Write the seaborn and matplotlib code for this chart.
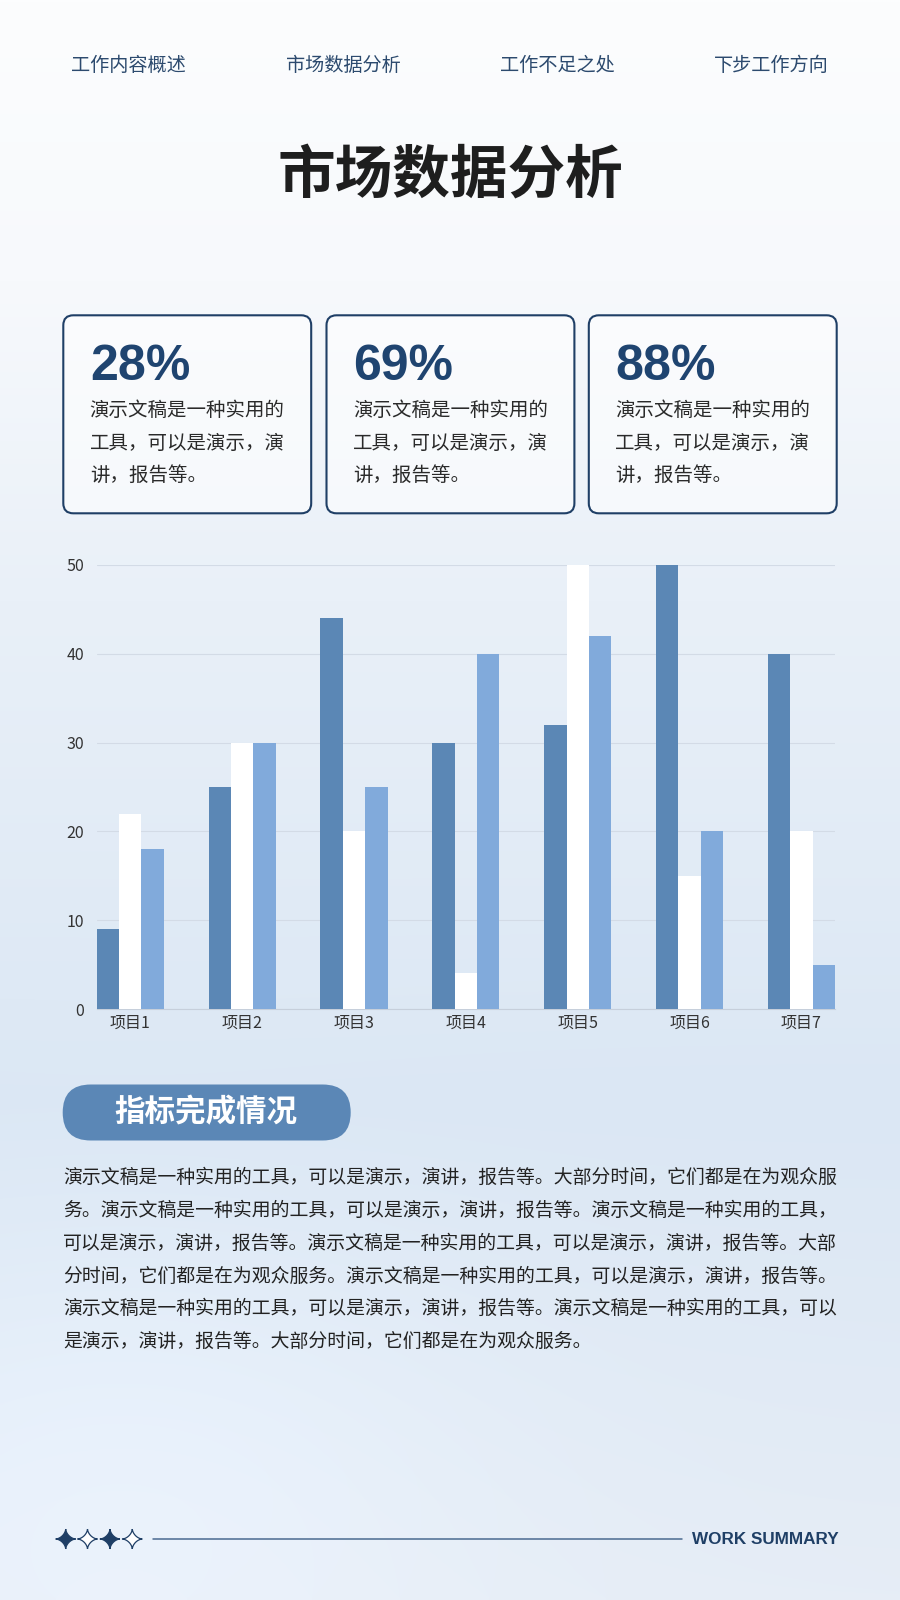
import numpy as np
import pandas as pd
import matplotlib
matplotlib.use("Agg")
import matplotlib.pyplot as plt
import seaborn as sns
from matplotlib.patches import FancyBboxPatch, Polygon
from matplotlib.lines import Line2D

# ---------------- data ----------------
categories = ["项目1", "项目2", "项目3", "项目4", "项目5", "项目6", "项目7"]
series_names = ["系列1", "系列2", "系列3"]
series1 = [9, 25, 44, 30, 32, 50, 40]
series2 = [22, 30, 20, 4, 50, 15, 20]
series3 = [18, 30, 25, 40, 42, 20, 5]
y_ticks = [0, 10, 20, 30, 40, 50]

nav_items = ["工作内容概述", "市场数据分析", "工作不足之处", "下步工作方向"]
page_title = "市场数据分析"
card_values = ["28%", "69%", "88%"]
card_lines = ["演示文稿是一种实用的", "工具，可以是演示，演", "讲，报告等。"]
section_title = "指标完成情况"
paragraph_lines = [
    "演示文稿是一种实用的工具，可以是演示，演讲，报告等。大部分时间，它们都是在为观众服",
    "务。演示文稿是一种实用的工具，可以是演示，演讲，报告等。演示文稿是一种实用的工具，",
    "可以是演示，演讲，报告等。演示文稿是一种实用的工具，可以是演示，演讲，报告等。大部",
    "分时间，它们都是在为观众服务。演示文稿是一种实用的工具，可以是演示，演讲，报告等。",
    "演示文稿是一种实用的工具，可以是演示，演讲，报告等。演示文稿是一种实用的工具，可以",
    "是演示，演讲，报告等。大部分时间，它们都是在为观众服务。",
]
footer_text = "WORK SUMMARY"

# ---------------- style ----------------
sns.set_theme(style="white")
plt.rcParams['font.family'] = ['Noto Sans CJK SC', 'DejaVu Sans']

NAVY = "#1f3f66"
DARK_BAR = "#5b87b5"
LIGHT_BAR = "#81aadb"
palette = {series_names[0]: DARK_BAR, series_names[1]: "#ffffff", series_names[2]: LIGHT_BAR}

W, H = 900, 1600
fig = plt.figure(figsize=(9, 16), dpi=100)

# ---------------- background ----------------
bg = fig.add_axes([0, 0, 1, 1])
bg.set_axis_off()
yy = np.linspace(0, H, 400)
xx = np.linspace(0, W, 225)
stops_y = [0, 280, 600, 1100, 1600]
stops_c = np.array([[252, 253, 254], [247, 249, 252], [233, 240, 248],
                    [219, 231, 244], [230, 237, 246]]) / 255.0
col = np.stack([np.interp(yy, stops_y, stops_c[:, k]) for k in range(3)], axis=1)
img = np.repeat(col[:, None, :], len(xx), axis=1)
X, Y = np.meshgrid(xx, yy)
glow = np.exp(-(((X - 120) / 380) ** 2 + ((Y - 1480) / 260) ** 2)) * 0.025
img = np.clip(img + glow[..., None], 0, 1)
bg.imshow(img, extent=[0, W, H, 0], aspect='auto', zorder=0, interpolation='bilinear')
bg.set_xlim(0, W)
bg.set_ylim(H, 0)

# ---------------- navigation ----------------
nav_x = [128.6, 342.9, 557.1, 771.4]
for x, t in zip(nav_x, nav_items):
    bg.text(x, 65.3, t, ha='center', va='center', fontsize=13.8, color="#2c4a6e", zorder=5)

# ---------------- title ----------------
bg.text(450, 175.5, page_title, ha='center', va='center', fontsize=41.5,
        fontweight='bold', color="#1e1e1e", zorder=5)

# ---------------- cards ----------------
card_x = [63.3, 326.5, 588.8]
card_w = 247.9
card_top, card_bot = 315.3, 513.3
for cx, val in zip(card_x, card_values):
    box = FancyBboxPatch((cx, card_top), card_w, card_bot - card_top,
                         boxstyle="round,pad=0,rounding_size=10",
                         facecolor=(1, 1, 1, 0.55), edgecolor=NAVY, linewidth=1.5, zorder=3)
    bg.add_patch(box)
    bg.text(cx + 26.5, 379.6, val, ha='left', va='baseline', fontsize=36,
            fontweight='bold', color="#1f4470", family=['Liberation Sans', 'DejaVu Sans'], zorder=5)
    for ly, line in zip([411, 443.5, 475], card_lines):
        bg.text(cx + 26.5, ly, line, ha='left', va='center', fontsize=14,
                color="#2a2a2a", zorder=5)

# ---------------- chart ----------------
ax = fig.add_axes([96.7 / W, 1 - 1009 / H, 738.3 / W, 444 / H])
ax.patch.set_alpha(0)
df = pd.DataFrame({
    "category": categories * 3,
    "series": [series_names[0]] * 7 + [series_names[1]] * 7 + [series_names[2]] * 7,
    "value": series1 + series2 + series3,
})
sns.barplot(data=df, x="category", y="value", hue="series", palette=palette,
            order=categories, hue_order=series_names, width=0.6, gap=0,
            saturation=1, linewidth=0, legend=False, ax=ax, zorder=3, errorbar=None)
ax.set_xlim(-0.3, len(categories) - 1 + 0.3)
ax.set_ylim(0, 50)
ax.set_yticks(y_ticks)
ax.set_yticklabels([str(v) for v in y_ticks])
ax.yaxis.grid(True, color="#d3dbe6", linewidth=0.8, zorder=0)
ax.set_axisbelow(True)
for s in ["top", "right", "left"]:
    ax.spines[s].set_visible(False)
ax.spines["bottom"].set_color("#c6cfdb")
ax.spines["bottom"].set_linewidth(0.8)
ax.tick_params(axis='both', length=0, labelsize=11.5, labelcolor="#333333")
ax.tick_params(axis='y', pad=9)
ax.tick_params(axis='x', pad=4)
ax.set_xlabel("")
ax.set_ylabel("")

# ---------------- section pill ----------------
pill = FancyBboxPatch((62.7, 1084.5), 288, 56,
                      boxstyle="round,pad=0,rounding_size=28",
                      facecolor="#5b87b6", edgecolor="none", zorder=3)
bg.add_patch(pill)
bg.text(206, 1112, section_title, ha='center', va='center', fontsize=22,
        fontweight='bold', color="white", zorder=5)

# ---------------- paragraph ----------------
para_y = [1177.5, 1210.5, 1243.5, 1276, 1308.5, 1341]
for py, line in zip(para_y, paragraph_lines):
    bg.text(63, py, line, ha='left', va='center', fontsize=13.6, color="#222222", zorder=5)

# ---------------- footer ----------------
def star(cx, cy, r):
    t = np.linspace(0, 2 * np.pi, 160)
    c, s = np.cos(t), np.sin(t)
    px = cx + r * np.sign(c) * np.abs(c) ** 3.2
    py = cy + r * np.sign(s) * np.abs(s) ** 3.2
    return np.column_stack([px, py])

star_x = [65.7, 87.5, 110.0, 132.3]
for i, sx in enumerate(star_x):
    filled = (i % 2 == 0)
    poly = Polygon(star(sx, 1539, 10), closed=True,
                   facecolor=NAVY if filled else "white",
                   edgecolor=NAVY, linewidth=0.9, zorder=5)
    bg.add_patch(poly)
bg.add_line(Line2D([153.3, 681.6], [1539, 1539], color="#4a6a90", linewidth=1.1, zorder=5))
bg.text(839, 1539, footer_text, ha='right', va='center', fontsize=12.3,
        fontweight='bold', color=NAVY, family=['Liberation Sans', 'DejaVu Sans'], zorder=5)

fig.savefig("out.png", dpi=100)
